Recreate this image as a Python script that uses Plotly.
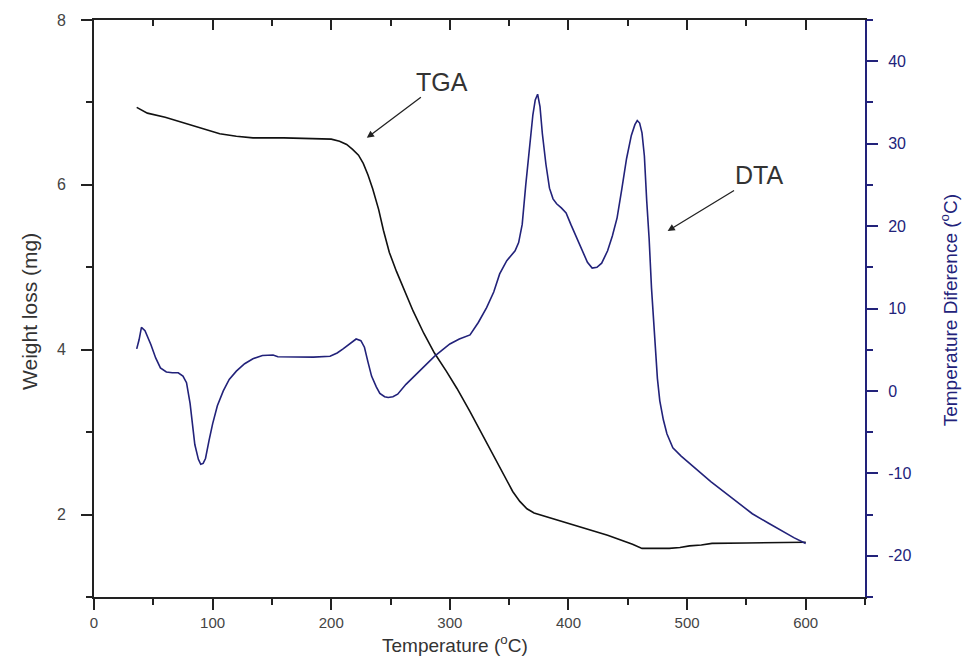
import plotly.graph_objects as go

# ---------------- data ----------------
tga_temp = [36, 45, 60, 72, 89, 106, 120, 134, 160, 190, 200, 207, 213, 218, 223, 227,
            231, 235, 240, 244, 249, 255, 262, 269, 278, 287, 297, 306, 317, 328, 335,
            342, 348, 353, 359, 365, 371, 378, 395, 412, 433, 454, 462, 475, 485, 494,
            502, 512, 521, 550, 575, 600]
tga_weight = [6.94, 6.87, 6.82, 6.77, 6.69, 6.62, 6.59, 6.57, 6.57, 6.56, 6.555, 6.53,
              6.49, 6.43, 6.36, 6.26, 6.12, 5.95, 5.70, 5.45, 5.18, 4.95, 4.70, 4.47,
              4.20, 3.96, 3.74, 3.53, 3.25, 2.95, 2.76, 2.58, 2.42, 2.28, 2.16, 2.07,
              2.02, 1.99, 1.91, 1.84, 1.75, 1.64, 1.59, 1.59, 1.59, 1.60, 1.62, 1.63,
              1.65, 1.655, 1.66, 1.665]

dta_temp = [36, 38, 40, 43, 48, 52, 56, 61, 66, 71, 75, 78, 81, 83, 85, 88, 90, 92, 94,
            97, 100, 104, 109, 114, 120, 127, 134, 142, 151, 155, 170, 185, 199, 205,
            210, 216, 221, 225, 228, 231, 234, 238, 241, 245, 248, 252, 256, 263, 272,
            280, 287, 294, 300, 308, 317, 324, 331, 337, 342, 348, 355, 358, 361, 364,
            367, 370, 372, 374, 376, 378, 381, 384, 387, 390, 394, 398, 402, 407, 412,
            416, 420, 424, 428, 433, 437, 441, 445, 449, 453, 456, 458, 460, 462, 464,
            466, 468, 470, 472, 475, 477, 480, 483, 488, 495, 505, 520, 538, 555, 568,
            580, 590, 600]
dta_delta = [5.1, 6.2, 7.7, 7.3, 5.6, 4.0, 2.8, 2.3, 2.2, 2.2, 1.8, 1.0, -1.5, -4.0,
             -6.5, -8.3, -8.9, -8.8, -8.2, -6.0, -4.0, -1.8, 0.0, 1.4, 2.4, 3.3, 3.9,
             4.3, 4.35, 4.15, 4.1, 4.1, 4.2, 4.6, 5.1, 5.8, 6.3, 6.1, 5.3, 3.5, 1.8,
             0.5, -0.3, -0.7, -0.8, -0.7, -0.4, 0.8, 2.1, 3.2, 4.2, 5.0, 5.7, 6.3, 6.8,
             8.3, 10.1, 12.0, 14.2, 15.8, 17.0, 18.0, 20.2, 25.0, 29.5, 33.5, 35.3,
             36.0, 34.5, 31.2, 27.5, 24.6, 23.3, 22.7, 22.2, 21.6, 20.2, 18.5, 17.0,
             15.6, 14.9, 15.0, 15.5, 17.0, 18.8, 21.0, 24.5, 28.2, 31.0, 32.3, 32.8,
             32.5, 31.3, 28.5, 23.0, 18.5, 12.5, 7.5, 1.5, -1.2, -3.5, -5.2, -6.9,
             -7.9, -9.1, -11.0, -13.0, -14.9, -16.0, -17.0, -17.8, -18.5]

x_ticks = [0, 100, 200, 300, 400, 500, 600]
y_ticks = [2, 4, 6, 8]
y2_ticks = [-20, -10, 0, 10, 20, 30, 40]
y2_labels = ["-20", "-10", "0", "10", "20", "30", "40"]

# ---------------- style ----------------
FONT = "Liberation Sans, Arial, sans-serif"
AXIS = "#222222"
NAVY = "#22227a"
TICKTXT = "#444444"

fig = go.Figure()
fig.add_trace(go.Scatter(x=tga_temp, y=tga_weight, mode="lines", name="TGA",
                         line=dict(color="#111111", width=1.6), xaxis="x", yaxis="y",
                         showlegend=False))
fig.add_trace(go.Scatter(x=dta_temp, y=dta_delta, mode="lines", name="DTA",
                         line=dict(color=NAVY, width=1.6), xaxis="x", yaxis="y2",
                         showlegend=False))
# invisible trace to activate the top (mirror) axis
fig.add_trace(go.Scatter(x=[x_ticks[0]], y=[y_ticks[0]], mode="markers", xaxis="x2",
                         yaxis="y", marker=dict(opacity=0), showlegend=False,
                         hoverinfo="skip"))

fig.update_layout(
    width=966, height=659,
    margin=dict(l=94, r=101, t=20, b=62),
    paper_bgcolor="white", plot_bgcolor="white",
    font=dict(family=FONT, color=TICKTXT),
    xaxis=dict(range=[0, 650], tickvals=x_ticks, ticks="outside", ticklen=11,
               tickwidth=2, tickcolor=AXIS, showline=True, linewidth=2,
               linecolor=AXIS, showgrid=False, zeroline=False,
               tickfont=dict(size=15, color=TICKTXT), ticklabelstandoff=0,
               minor=dict(dtick=50, tick0=0, ticks="outside", ticklen=6,
                          tickwidth=2, tickcolor=AXIS)),
    xaxis2=dict(range=[0, 650], overlaying="x", side="top", anchor="y",
                tickvals=x_ticks, ticks="inside", ticklen=10, tickwidth=2,
                tickcolor=AXIS, showticklabels=False, showline=True, linewidth=2,
                linecolor=AXIS, showgrid=False, zeroline=False,
                minor=dict(dtick=50, tick0=0, ticks="inside", ticklen=6,
                           tickwidth=2, tickcolor=AXIS)),
    yaxis=dict(range=[1, 8], tickvals=y_ticks, ticks="outside", ticklen=11,
               tickwidth=2, tickcolor=AXIS, showline=True, linewidth=2,
               linecolor=AXIS, showgrid=False, zeroline=False,
               tickfont=dict(size=16, color=TICKTXT), ticklabelstandoff=12,
               minor=dict(dtick=1, tick0=0, ticks="outside", ticklen=6,
                          tickwidth=2, tickcolor=AXIS)),
    yaxis2=dict(range=[-25, 45], tickvals=y2_ticks, ticktext=y2_labels,
                overlaying="y", side="right",
                anchor="x", ticks="outside", ticklen=11, tickwidth=2,
                tickcolor=NAVY, showline=True, linewidth=2, linecolor=NAVY,
                showgrid=False, zeroline=False,
                tickfont=dict(size=16, color=NAVY), ticklabelstandoff=7,
                minor=dict(dtick=5, tick0=0, ticks="outside", ticklen=6,
                           tickwidth=2, tickcolor=NAVY)),
)

annotations = [
    # axis titles
    dict(text="Temperature (<sup>o</sup>C)", xref="paper", yref="paper",
         x=0.468, y=-0.106, showarrow=False, xanchor="center", yanchor="bottom",
         font=dict(size=19, color="#333333", family=FONT)),
    dict(text="Weight loss (mg)", xref="paper", yref="paper", x=-0.083, y=0.494,
         textangle=-90, showarrow=False, xanchor="center", yanchor="middle",
         font=dict(size=21, color="#333333", family=FONT)),
    dict(text="Temperature Diference (<sup>o</sup>C)", xref="paper", yref="paper",
         x=1.109, y=0.497, textangle=-90, showarrow=False, xanchor="center",
         yanchor="middle", font=dict(size=19, color=NAVY, family=FONT)),
    # labels with arrows (arrow tip at x,y; text centred at ax,ay)
    dict(text="TGA", xref="x", yref="y", x=230, y=6.57, axref="x", ayref="y",
         ax=293, ay=7.25, showarrow=True, arrowhead=2, arrowsize=1.1,
         arrowwidth=1.3, arrowcolor="#222222",
         font=dict(size=25, color="#333333", family=FONT)),
    dict(text="DTA", xref="x", yref="y", x=483.6, y=5.44, axref="x", ayref="y",
         ax=561, ay=6.12, showarrow=True, arrowhead=2, arrowsize=1.1,
         arrowwidth=1.3, arrowcolor="#222222",
         font=dict(size=25, color="#333333", family=FONT)),
]
fig.update_layout(annotations=annotations)

fig.write_html("out.html")
